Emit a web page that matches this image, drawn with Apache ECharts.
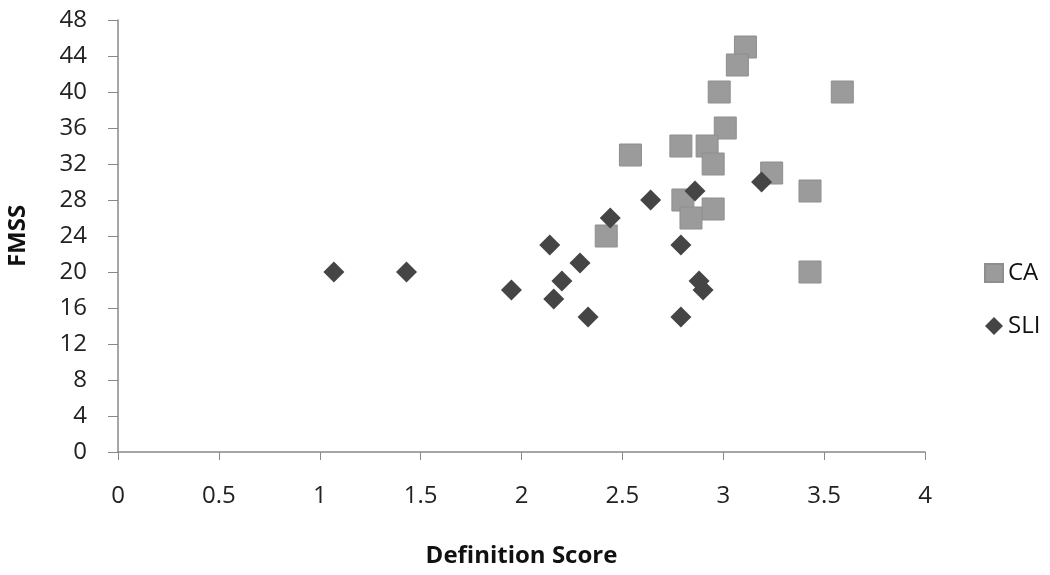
<!DOCTYPE html>
<html>
<head>
<meta charset="utf-8">
<script src="https://cdn.jsdelivr.net/npm/echarts@6/dist/echarts.min.js"></script>
<style>html,body{margin:0;padding:0;background:#fff}#c{width:1050px;height:575px}</style>
</head>
<body>
<div id="c"></div>
<script>
const caX = [3.11, 3.07, 2.98, 3.59, 3.01, 2.79, 2.92, 2.54, 2.95, 3.24, 3.43, 2.80, 2.95, 2.84, 2.42, 3.43];
const caY = [45, 43, 40, 40, 36, 34, 34, 33, 32, 31, 29, 28, 27, 26, 24, 20];
const sliX = [2.86, 3.19, 2.64, 2.44, 2.14, 2.79, 2.29, 2.20, 2.88, 2.90, 1.95, 2.16, 2.33, 2.79, 1.07, 1.43];
const sliY = [29, 30, 28, 26, 23, 23, 21, 19, 19, 18, 18, 17, 15, 15, 20, 20];
const seriesNames = ['CA', 'SLI'];
const xTitle = 'Definition Score';
const yTitle = 'FMSS';

const font = '"Open Sans", "Noto Sans", sans-serif';
const chart = echarts.init(document.getElementById('c'), null, {renderer: 'canvas'});
chart.setOption({
  animation: false,
  backgroundColor: '#ffffff',
  grid: {left: 118, right: 125, top: 20, bottom: 123, containLabel: false, outerBoundsMode: 'none'},
  legend: {
    orient: 'vertical',
    left: 984, top: 261,
    itemGap: 29,
    itemWidth: 18, itemHeight: 18,
    padding: 0,
    textStyle: {fontFamily: font, fontSize: 24, color: '#111'},
    data: [
      {name: seriesNames[0], icon: 'rect'},
      {name: seriesNames[1], icon: 'diamond'}
    ]
  },
  xAxis: {
    type: 'value', min: 0, max: 4, interval: 0.5,
    name: xTitle, nameLocation: 'middle', nameGap: 92,
    nameTextStyle: {fontFamily: font, fontSize: 24, fontWeight: 'bold', color: '#111'},
    axisLine: {onZero: false, lineStyle: {color: '#888', width: 1.5}},
    axisTick: {show: true, length: 8, lineStyle: {color: '#888'}},
    axisLabel: {fontFamily: font, fontSize: 24, color: '#222', margin: 32},
    splitLine: {show: false}
  },
  yAxis: {
    type: 'value', min: 0, max: 48, interval: 4,
    name: yTitle, nameLocation: 'middle', nameGap: 88, nameRotate: 90,
    nameTextStyle: {fontFamily: font, fontSize: 24, fontWeight: 'bold', color: '#111'},
    axisLine: {show: true, onZero: false, lineStyle: {color: '#888', width: 1.5}},
    axisTick: {show: true, length: 10, lineStyle: {color: '#888'}},
    axisLabel: {fontFamily: font, fontSize: 24, color: '#222', margin: 31},
    splitLine: {show: false}
  },
  series: [
    {
      name: seriesNames[0], type: 'scatter', symbol: 'rect', symbolSize: 22,
      itemStyle: {color: '#9b9b9b', borderColor: '#8e8e8e', borderWidth: 1, opacity: 1},
      data: caX.map((x, i) => [x, caY[i]])
    },
    {
      name: seriesNames[1], type: 'scatter', symbol: 'diamond', symbolSize: 21,
      itemStyle: {color: '#454545', opacity: 1},
      data: sliX.map((x, i) => [x, sliY[i]])
    }
  ]
});
</script>
</body>
</html>
